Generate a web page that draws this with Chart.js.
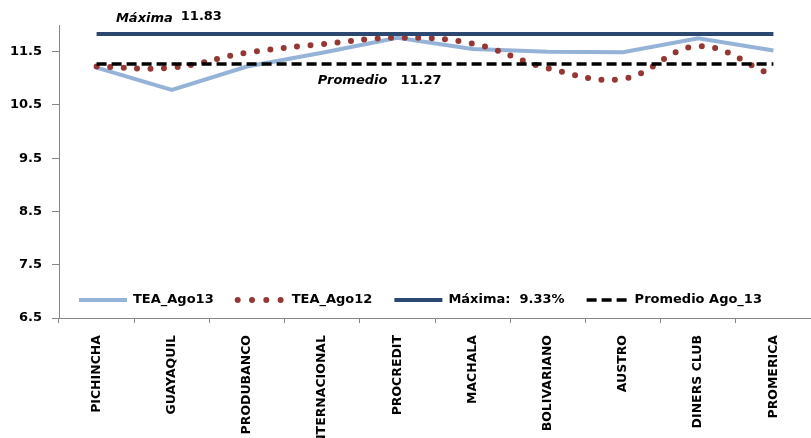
<!DOCTYPE html>
<html>
<head>
<meta charset="utf-8">
<script src="https://cdn.jsdelivr.net/npm/chart.js@4.4.1/dist/chart.umd.min.js"></script>
<style>
html, body { margin: 0; padding: 0; background: #fff; }
#wrap { width: 811px; height: 438px; }
</style>
</head>
<body>
<div id="wrap"><canvas id="tasaChart" width="811" height="438"></canvas></div>
<script>
// Datos
const bancos = ['PICHINCHA', 'GUAYAQUIL', 'PRODUBANCO', 'INTERNACIONAL', 'PROCREDIT',
                'MACHALA', 'BOLIVARIANO', 'AUSTRO', 'DINERS CLUB', 'PROMERICA'];
const teaAgo13 = [11.20, 10.78, 11.22, 11.48, 11.76, 11.55, 11.50, 11.49, 11.75, 11.52];
const teaAgo12 = [11.22, 11.20, 11.48, 11.64, 11.76, 11.65, 11.19, 10.99, 11.60, 11.05];
const maxima = [11.83, 11.83, 11.83, 11.83, 11.83, 11.83, 11.83, 11.83, 11.83, 11.83];
const promedio = [11.27, 11.27, 11.27, 11.27, 11.27, 11.27, 11.27, 11.27, 11.27, 11.27];
const yTicks = [6.5, 7.5, 8.5, 9.5, 10.5, 11.5];
const yMin = 6.5;
const yMax = 12;
const leyendas = ['TEA_Ago13', 'TEA_Ago12', 'Máxima:  9.33%', 'Promedio Ago_13'];

const FONT = "'DejaVu Sans', sans-serif";
const AXIS_COLOR = '#868686';

// Leyenda dentro del área del gráfico
const leyendaInterna = {
    id: 'leyendaInterna',
    afterDraw(chart) {
        const ctx = chart.ctx;
        const y = 300;
        let x = 79;
        ctx.save();
        ctx.font = 'bold 13px ' + FONT;
        ctx.textBaseline = 'middle';
        ctx.fillStyle = '#000';
        chart.data.datasets.forEach((ds, i) => {
            const w = i === 1 ? 50 : (i === 3 ? 42 : 48);
            ctx.beginPath();
            ctx.strokeStyle = ds.borderColor;
            ctx.lineWidth = ds.borderWidth;
            ctx.lineCap = ds.borderCapStyle || 'butt';
            ctx.setLineDash(i === 1 ? [0, 14.3] : (ds.borderDash || []));
            if (i === 1) {
                ctx.moveTo(x + 2, y);
                ctx.lineTo(x + 46, y);
            } else {
                ctx.moveTo(x, y);
                ctx.lineTo(x + w, y);
            }
            ctx.stroke();
            ctx.setLineDash([]);
            const tx = x + w + 6;
            ctx.fillText(leyendas[i], tx, y);
            x = tx + ctx.measureText(leyendas[i]).width + 22;
        });
        ctx.restore();
    }
};

// Etiquetas de Máxima y Promedio
const etiquetas = {
    id: 'etiquetas',
    afterDatasetsDraw(chart) {
        const ctx = chart.ctx;
        const xs = chart.scales.x;
        const ys = chart.scales.y;
        ctx.save();
        ctx.fillStyle = '#000';
        ctx.textBaseline = 'middle';

        const xMax = xs.getPixelForValue(1);
        const yMaxPx = ys.getPixelForValue(maxima[0]) - 16;
        ctx.font = 'italic bold 13px ' + FONT;
        ctx.textAlign = 'right';
        ctx.fillText('Máxima', xMax + 1, yMaxPx + 1);
        ctx.font = 'bold 13px ' + FONT;
        ctx.textAlign = 'left';
        ctx.fillText(maxima[0].toFixed(2), xMax + 9, yMaxPx - 1);

        const xProm = xs.getPixelForValue(4);
        const yProm = ys.getPixelForValue(promedio[0]) + 17;
        ctx.font = 'italic bold 13px ' + FONT;
        ctx.textAlign = 'right';
        ctx.fillText('Promedio', xProm - 10, yProm);
        ctx.font = 'bold 13px ' + FONT;
        ctx.textAlign = 'left';
        ctx.fillText(promedio[0].toFixed(2), xProm + 3, yProm);
        ctx.restore();
    }
};

const fondoBlanco = {
    id: 'fondoBlanco',
    beforeDraw(chart) {
        const ctx = chart.ctx;
        ctx.save();
        ctx.fillStyle = '#fff';
        ctx.fillRect(0, 0, chart.width, chart.height);
        ctx.restore();
    }
};

const canvas = document.getElementById('tasaChart');

new Chart(canvas, {
    type: 'line',
    data: {
        labels: bancos,
        datasets: [{
            label: leyendas[0],
            data: teaAgo13,
            borderColor: '#95B3D7',
            borderWidth: 4,
            tension: 0,
            order: 4
        }, {
            label: leyendas[1],
            data: teaAgo12,
            borderColor: '#953735',
            borderWidth: 6,
            borderDash: [0, 13.5],
            borderCapStyle: 'round',
            tension: 0.4,
            order: 3
        }, {
            label: leyendas[2],
            data: maxima,
            borderColor: '#2C4770',
            borderWidth: 4,
            order: 2
        }, {
            label: leyendas[3],
            data: promedio,
            borderColor: '#000000',
            borderWidth: 3.5,
            borderDash: [10, 5],
            order: 1
        }]
    },
    options: {
        responsive: false,
        animation: false,
        layout: { padding: { top: 25, right: 0, bottom: 0, left: 0 } },
        elements: { point: { radius: 0, hoverRadius: 0 } },
        plugins: {
            legend: { display: false },
            tooltip: { enabled: false }
        },
        scales: {
            x: {
                offset: true,
                grid: {
                    offset: true,
                    drawOnChartArea: false,
                    drawTicks: true,
                    tickLength: 5,
                    color: AXIS_COLOR
                },
                border: { color: AXIS_COLOR, width: 1 },
                ticks: {
                    color: '#000',
                    font: { family: FONT, size: 12.5, weight: 'bold' },
                    minRotation: 90,
                    maxRotation: 90,
                    autoSkip: false,
                    padding: 12
                },
                afterFit(scale) { scale.height = 120; }
            },
            y: {
                min: yMin,
                max: yMax,
                grid: {
                    drawOnChartArea: false,
                    drawTicks: true,
                    tickLength: 7,
                    color: AXIS_COLOR
                },
                border: { color: AXIS_COLOR, width: 1 },
                ticks: {
                    color: '#000',
                    font: { family: FONT, size: 13, weight: 'bold' },
                    padding: 10,
                    callback: (v) => v.toFixed(1)
                },
                afterBuildTicks(scale) {
                    scale.ticks = yTicks.map(v => ({ value: v }));
                },
                afterFit(scale) { scale.width = 59; }
            }
        }
    },
    plugins: [fondoBlanco, etiquetas, leyendaInterna]
});
</script>
</body>
</html>
